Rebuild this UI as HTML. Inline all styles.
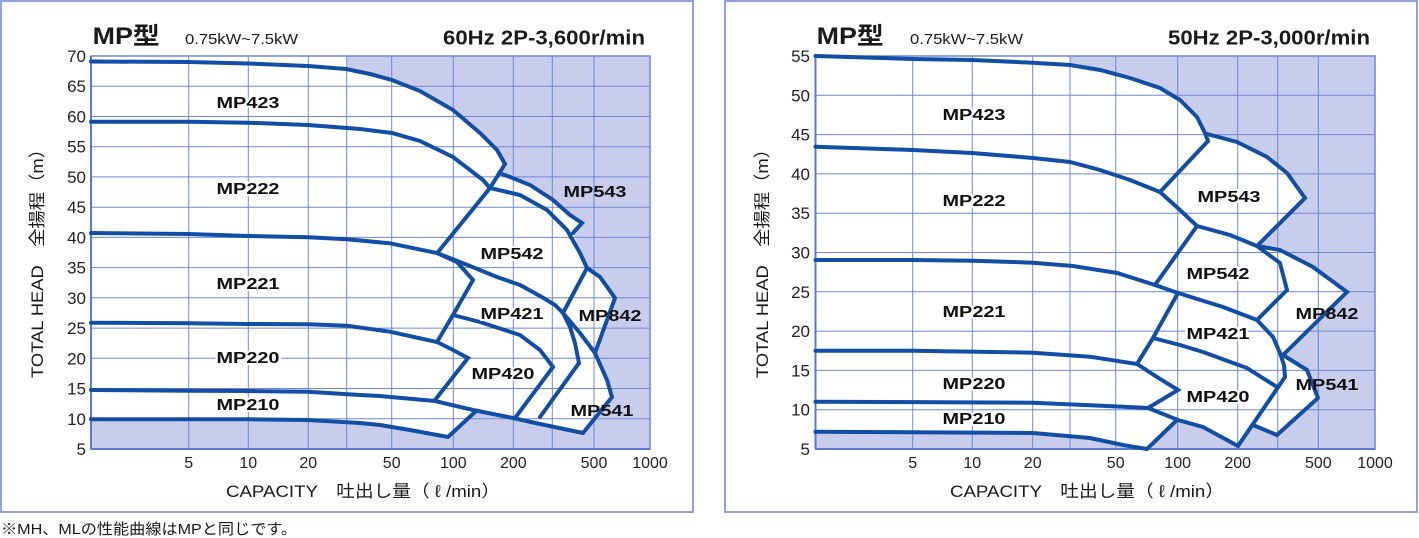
<!DOCTYPE html>
<html><head><meta charset="utf-8"><style>
html,body{margin:0;padding:0;background:#fff;}
svg{display:block;}
.t{font-family:"Liberation Sans","Noto Sans CJK JP",sans-serif;fill:#1a1a1a;}
.lb{font-family:"Liberation Sans",sans-serif;font-weight:bold;font-size:16px;fill:#111;text-anchor:middle;}
.lw{stroke:#fff;stroke-width:4;paint-order:stroke;stroke-linejoin:round;}
.c{fill:none;stroke:#124ea6;stroke-width:4;stroke-linejoin:miter;stroke-miterlimit:6;stroke-linecap:round;}
.g{stroke:#6f87d9;stroke-width:1;}
.yt{font-family:"Liberation Sans",sans-serif;font-size:17px;fill:#222;text-anchor:end;}
.xt{font-family:"Liberation Sans",sans-serif;font-size:16px;fill:#222;text-anchor:middle;}
</style></head><body>
<svg width="1419" height="538" viewBox="0 0 1419 538" xmlns="http://www.w3.org/2000/svg">
<!-- panels -->
<rect x="1" y="1" width="692" height="511" fill="#fff" stroke="#8ea2dc" stroke-width="2"/>
<rect x="725" y="1" width="692" height="511" fill="#fff" stroke="#8ea2dc" stroke-width="2"/>

<!-- LEFT CHART -->
<rect x="91" y="56" width="559" height="393" fill="#c8cdeb"/>
<path fill="#fff" d="M91,56 L346.7,56 L346.7,69 L370,74 L392,80 L420,91 L453,110 L480,133 L497,150 L505,164 L499,173 L510,177 L530,185 L553,200 L570,215 L582,223 L573,232 L580,253 L587,268 L600,277 L615,298 L607,320 L595,353 L607,380 L612,397 L583,433 L540,424 L513,418 L475,412 L448,437 L410,430 L380,425 L360,423 L308,420 L248,419.3 L91,419.3 Z"/>
<g class="g">
<line x1="91" y1="86.2" x2="650" y2="86.2"/><line x1="91" y1="116.5" x2="650" y2="116.5"/><line x1="91" y1="146.7" x2="650" y2="146.7"/><line x1="91" y1="176.9" x2="650" y2="176.9"/><line x1="91" y1="207.2" x2="650" y2="207.2"/><line x1="91" y1="237.4" x2="650" y2="237.4"/><line x1="91" y1="267.6" x2="650" y2="267.6"/><line x1="91" y1="297.8" x2="650" y2="297.8"/><line x1="91" y1="328.1" x2="650" y2="328.1"/><line x1="91" y1="358.3" x2="650" y2="358.3"/><line x1="91" y1="388.5" x2="650" y2="388.5"/><line x1="91" y1="418.8" x2="650" y2="418.8"/>
<line x1="188.7" y1="56" x2="188.7" y2="449"/><line x1="248.3" y1="56" x2="248.3" y2="449"/><line x1="308.3" y1="56" x2="308.3" y2="449"/><line x1="346.7" y1="56" x2="346.7" y2="449"/><line x1="391.7" y1="56" x2="391.7" y2="449"/><line x1="453.3" y1="56" x2="453.3" y2="449"/><line x1="513.3" y1="56" x2="513.3" y2="449"/><line x1="552.3" y1="56" x2="552.3" y2="449"/><line x1="594" y1="56" x2="594" y2="449"/>
</g>
<rect x="91" y="56" width="559" height="393" fill="none" stroke="#6f87d9" stroke-width="1.5"/>
<line x1="91" y1="449" x2="650" y2="449" stroke="#5d78d2" stroke-width="2"/>
<line x1="91" y1="56" x2="91" y2="449" stroke="#5d78d2" stroke-width="2"/>

<g class="c">
<path d="M91,61.5 L189,62 L248,63.5 L308,66 L346,69 L370,74 L392,80 L420,91 L453,110 L480,133 L497,150 L505,164 L490,188"/>
<path d="M499,173 L510,177 L530,185 L553,200 L570,215 L582,223 L573,233"/>
<path d="M91,121.7 L189,121.7 L248,122.7 L308,125 L360,129 L392,133 L420,141 L453,157 L483,180 L490,188 L438,252"/>
<path d="M490,188 L520,195 L547,210 L567,230 L580,253 L587,268 L563,313"/>
<path d="M587,268 L600,277 L615,298 L595,353"/>
<path d="M91,233 L189,234 L248,236 L308,237.3 L347,239.3 L390,243.3 L437,253 L470,266 L497,277 L520,285 L540,296 L555,305 L563,313 L580,333 L595,353 L607,380 L612,397 L583,433"/>
<path d="M437,253 L457,262 L473,280 L453,315 L437,342"/>
<path d="M453,315 L480,322 L520,335 L540,350 L553,367 L515,418"/>
<path d="M563,313 L570,327 L575,343 L579,363 L540,417"/>
<path d="M91,322.7 L189,323.3 L248,324 L308,324.3 L347,325.7 L390,331.7 L437,342 L453,350 L468,358 L435,400"/>
<path d="M91,390 L189,390.7 L248,391 L308,391.7 L360,395 L380,396 L435,401 L473,410 L513,418 L540,424 L583,433"/>
<path d="M91,419.3 L248,419.3 L308,420 L360,423 L380,425 L410,430 L448,437 L475,412"/>
</g>

<g class="lb">
<text class="lw" x="248" y="108" textLength="63" lengthAdjust="spacingAndGlyphs">MP423</text>
<text class="lw" x="248" y="194" textLength="63" lengthAdjust="spacingAndGlyphs">MP222</text>
<text class="lw" x="248" y="289" textLength="63" lengthAdjust="spacingAndGlyphs">MP221</text>
<text class="lw" x="248" y="363" textLength="63" lengthAdjust="spacingAndGlyphs">MP220</text>
<text class="lw" x="248" y="410" textLength="63" lengthAdjust="spacingAndGlyphs">MP210</text>
<text x="595" y="197" textLength="63" lengthAdjust="spacingAndGlyphs">MP543</text>
<text class="lw" x="512" y="259" textLength="63" lengthAdjust="spacingAndGlyphs">MP542</text>
<text class="lw" x="512" y="319" textLength="63" lengthAdjust="spacingAndGlyphs">MP421</text>
<text x="610" y="321" textLength="63" lengthAdjust="spacingAndGlyphs">MP842</text>
<text class="lw" x="503" y="379" textLength="63" lengthAdjust="spacingAndGlyphs">MP420</text>
<text x="602" y="416" textLength="63" lengthAdjust="spacingAndGlyphs">MP541</text>
</g>

<g class="yt">
<text x="86" y="62">70</text><text x="86" y="92.2">65</text><text x="86" y="122.5">60</text><text x="86" y="152.7">55</text><text x="86" y="182.9">50</text><text x="86" y="213.2">45</text><text x="86" y="243.4">40</text><text x="86" y="273.6">35</text><text x="86" y="303.8">30</text><text x="86" y="334.1">25</text><text x="86" y="364.3">20</text><text x="86" y="394.5">15</text><text x="86" y="424.8">10</text><text x="86" y="455">5</text>
</g>
<g class="xt">
<text x="188.7" y="468">5</text><text x="248.3" y="468">10</text><text x="308.3" y="468">20</text><text x="391.7" y="468">50</text><text x="453.3" y="468">100</text><text x="513.3" y="468">200</text><text x="594" y="468">500</text><text x="650" y="468">1000</text>
</g>
<text class="t" x="226" y="497" font-size="17" textLength="274" lengthAdjust="spacingAndGlyphs">CAPACITY　吐出し量（ ℓ /min）</text>
<text class="t" font-size="17" text-anchor="middle" transform="translate(43,259) rotate(-90)" textLength="238" lengthAdjust="spacingAndGlyphs">TOTAL HEAD　全揚程（m）</text>
<text class="t" x="92.7" y="44" font-size="24" font-weight="bold" textLength="67" lengthAdjust="spacingAndGlyphs">MP型</text>
<text class="t" x="185" y="44" font-size="15" textLength="113" lengthAdjust="spacingAndGlyphs">0.75kW~7.5kW</text>
<text class="t" x="443" y="44.5" font-size="20" font-weight="bold" textLength="202" lengthAdjust="spacingAndGlyphs">60Hz 2P-3,600r/min</text>

<!-- RIGHT CHART -->
<rect x="815.5" y="56" width="559.5" height="393" fill="#c8cdeb"/>
<path fill="#fff" d="M815.5,56 L1070,56 L1070,65 L1100,70 L1130,78 L1160,88 L1180,100 L1197,117 L1205,133 L1237,142 L1267,157 L1287,173 L1305,198 L1257,246 L1280,250 L1313,267 L1347,292 L1283,355 L1307,370 L1318,398 L1277,435 L1253,425 L1238,446 L1203,427 L1178,420 L1147,449 L1123,445 L1090,438 L1033,433 L815.5,432 Z"/>
<g class="g">
<line x1="815.5" y1="95.3" x2="1375" y2="95.3"/><line x1="815.5" y1="134.6" x2="1375" y2="134.6"/><line x1="815.5" y1="173.9" x2="1375" y2="173.9"/><line x1="815.5" y1="213.2" x2="1375" y2="213.2"/><line x1="815.5" y1="252.5" x2="1375" y2="252.5"/><line x1="815.5" y1="291.8" x2="1375" y2="291.8"/><line x1="815.5" y1="331.1" x2="1375" y2="331.1"/><line x1="815.5" y1="370.4" x2="1375" y2="370.4"/><line x1="815.5" y1="409.7" x2="1375" y2="409.7"/>
<line x1="912.7" y1="56" x2="912.7" y2="449"/><line x1="972.3" y1="56" x2="972.3" y2="449"/><line x1="1032.7" y1="56" x2="1032.7" y2="449"/><line x1="1070" y1="56" x2="1070" y2="449"/><line x1="1115.7" y1="56" x2="1115.7" y2="449"/><line x1="1177.7" y1="56" x2="1177.7" y2="449"/><line x1="1237.7" y1="56" x2="1237.7" y2="449"/><line x1="1277.7" y1="56" x2="1277.7" y2="449"/><line x1="1318.3" y1="56" x2="1318.3" y2="449"/>
</g>
<rect x="815.5" y="56" width="559.5" height="393" fill="none" stroke="#6f87d9" stroke-width="1.5"/>
<line x1="815.5" y1="449" x2="1375" y2="449" stroke="#5d78d2" stroke-width="2"/>
<line x1="815.5" y1="56" x2="815.5" y2="449" stroke="#5d78d2" stroke-width="2"/>

<g class="c">
<path d="M815.5,56 L913,59 L972,60 L1033,62.7 L1070,65 L1100,70 L1130,78 L1160,88 L1180,100 L1197,117 L1205,133 L1208,141 L1160,192"/>
<path d="M1207,134 L1237,142 L1267,157 L1287,173 L1305,198 L1257,246"/>
<path d="M815.5,146.7 L913,150 L972,153 L1033,158 L1070,162 L1100,170 L1130,180 L1160,192 L1180,210 L1197,226 L1155,285"/>
<path d="M1197,226 L1230,235 L1257,246 L1280,263 L1287,290 L1257,320"/>
<path d="M1257,246 L1280,250 L1313,267 L1347,292 L1283,355"/>
<path d="M815.5,260 L913,260 L973,260.7 L1033,262.7 L1073,266 L1117,273 L1155,285 L1178,293 L1223,307 L1257,320 L1273,337 L1280,353 L1284,365 L1285,377 L1238,446"/>
<path d="M1178,293 L1153,338 L1137,364"/>
<path d="M1153,338 L1180,345 L1203,352 L1247,368 L1277,387"/>
<path d="M815.5,350.7 L913,350.7 L1033,352.7 L1090,356.7 L1137,364 L1157,377 L1178,390 L1148,408"/>
<path d="M815.5,401.7 L1033,402.7 L1107,406 L1148,408 L1178,420 L1203,427 L1238,446"/>
<path d="M815.5,431.7 L1033,433 L1090,438 L1123,445 L1147,449 L1177,420"/>
<path d="M1283,355 L1307,370 L1318,398 L1277,435 L1253,425"/>
</g>

<g class="lb">
<text class="lw" x="974" y="120" textLength="63" lengthAdjust="spacingAndGlyphs">MP423</text>
<text class="lw" x="974" y="206" textLength="63" lengthAdjust="spacingAndGlyphs">MP222</text>
<text class="lw" x="974" y="317" textLength="63" lengthAdjust="spacingAndGlyphs">MP221</text>
<text class="lw" x="974" y="389" textLength="63" lengthAdjust="spacingAndGlyphs">MP220</text>
<text class="lw" x="974" y="424" textLength="63" lengthAdjust="spacingAndGlyphs">MP210</text>
<text class="lw" x="1229" y="202" textLength="63" lengthAdjust="spacingAndGlyphs">MP543</text>
<text class="lw" x="1218" y="279" textLength="63" lengthAdjust="spacingAndGlyphs">MP542</text>
<text x="1327" y="319" textLength="63" lengthAdjust="spacingAndGlyphs">MP842</text>
<text class="lw" x="1218" y="339" textLength="63" lengthAdjust="spacingAndGlyphs">MP421</text>
<text x="1327" y="390" textLength="63" lengthAdjust="spacingAndGlyphs">MP541</text>
<text class="lw" x="1218" y="402" textLength="63" lengthAdjust="spacingAndGlyphs">MP420</text>
</g>

<g class="yt">
<text x="810" y="62">55</text><text x="810" y="101.3">50</text><text x="810" y="140.6">45</text><text x="810" y="179.9">40</text><text x="810" y="219.2">35</text><text x="810" y="258.5">30</text><text x="810" y="297.8">25</text><text x="810" y="337.1">20</text><text x="810" y="376.4">15</text><text x="810" y="415.7">10</text><text x="810" y="455">5</text>
</g>
<g class="xt">
<text x="912.7" y="468">5</text><text x="972.3" y="468">10</text><text x="1032.7" y="468">20</text><text x="1115.7" y="468">50</text><text x="1177.7" y="468">100</text><text x="1237.7" y="468">200</text><text x="1318.3" y="468">500</text><text x="1375" y="468">1000</text>
</g>
<text class="t" x="950" y="497" font-size="17" textLength="274" lengthAdjust="spacingAndGlyphs">CAPACITY　吐出し量（ ℓ /min）</text>
<text class="t" font-size="17" text-anchor="middle" transform="translate(768,259) rotate(-90)" textLength="238" lengthAdjust="spacingAndGlyphs">TOTAL HEAD　全揚程（m）</text>
<text class="t" x="816.7" y="44" font-size="24" font-weight="bold" textLength="67" lengthAdjust="spacingAndGlyphs">MP型</text>
<text class="t" x="910" y="44" font-size="15" textLength="113" lengthAdjust="spacingAndGlyphs">0.75kW~7.5kW</text>
<text class="t" x="1168" y="44.5" font-size="20" font-weight="bold" textLength="202" lengthAdjust="spacingAndGlyphs">50Hz 2P-3,000r/min</text>

<!-- footnote -->
<text class="t" x="1" y="534" font-size="15" textLength="296" lengthAdjust="spacingAndGlyphs">※MH、MLの性能曲線はMPと同じです。</text>
</svg>
</body></html>
